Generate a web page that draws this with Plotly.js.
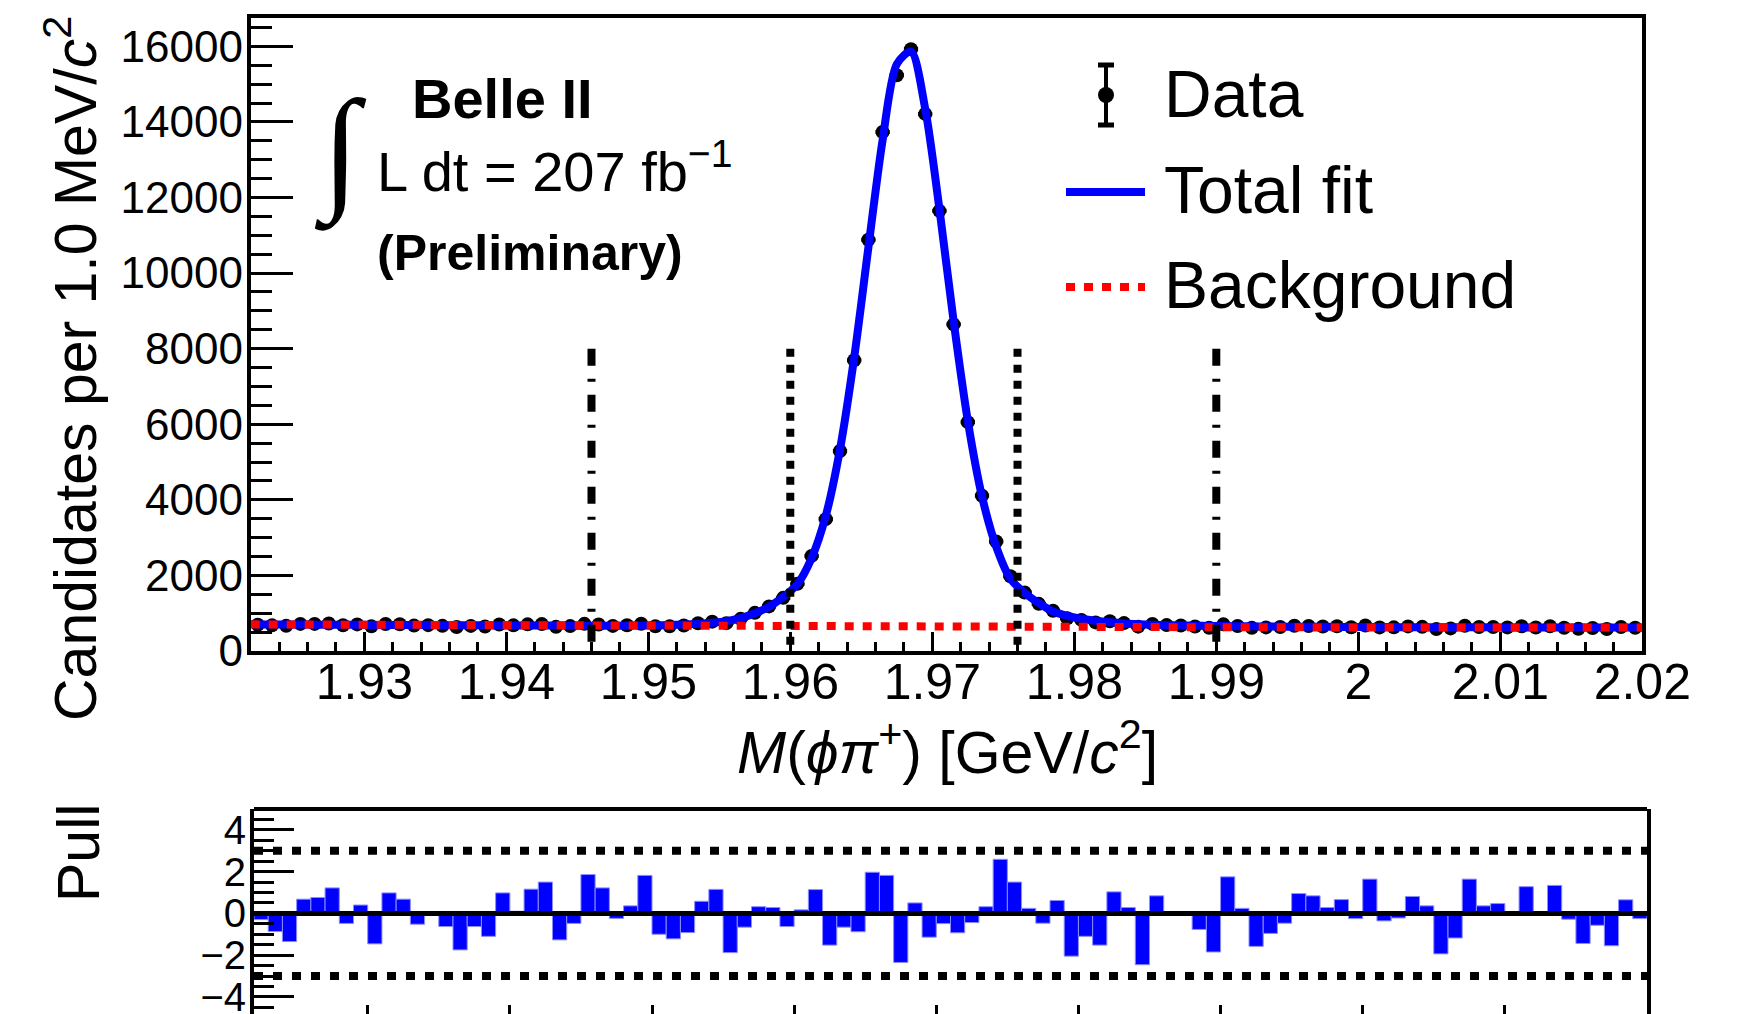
<!DOCTYPE html>
<html>
<head>
<meta charset="utf-8">
<script src="https://cdn.plot.ly/plotly-3.0.1.min.js"></script>
<style>
html,body{margin:0;padding:0;background:#fff;}
#chart{width:1747px;height:1014px;}
</style>
</head>
<body>
<div id="chart"></div>
<script>
// ---------------- data ----------------
const binLow = 1.922;          // GeV/c^2, lower edge of first bin
const binWidth = 0.001;        // 1.0 MeV/c^2 bins
const xRange = [1.922, 2.020];

// candidates per bin (data points)
const dataCounts = [
  696, 679, 665, 717, 717, 728, 681, 704, 653, 715,
  706, 672, 684, 666, 636, 664, 650, 703, 679, 705,
  712, 639, 659, 718, 702, 664, 680, 722, 654, 656,
  676, 734, 776, 737, 851, 1010, 1180, 1406, 1777, 2517,
  3489, 5292, 7692, 10884, 13732, 15237, 15923, 14213, 11647, 8643,
  6056, 4110, 2896, 1976, 1549, 1248, 1065, 867, 823, 757,
  788, 738, 644, 717, 685, 675, 649, 616, 705, 662,
  612, 625, 634, 668, 663, 647, 655, 630, 675, 624,
  626, 651, 639, 580, 598, 668, 635, 637, 625, 656,
  623, 656, 615, 586, 607, 582, 636, 614
];

// total fit read at the bin centres
const fitCounts = [
  704, 702, 701, 699, 697, 696, 694, 693, 691, 689,
  688, 686, 685, 683, 682, 680, 679, 677, 676, 675,
  673, 672, 671, 670, 670, 670, 671, 675, 680, 688,
  700, 718, 745, 790, 870, 1000, 1170, 1430, 1770, 2460,
  3580, 5340, 7770, 10680, 13520, 15530, 15860, 14350, 11700, 8730,
  6090, 4090, 2760, 1910, 1540, 1265, 1045, 930, 855, 800,
  760, 730, 710, 695, 684, 676, 669, 664, 660, 656,
  652, 649, 646, 644, 642, 640, 638, 636, 634, 633,
  632, 631, 630, 629, 628, 627, 626, 625, 624, 624,
  623, 623, 622, 622, 621, 621, 620, 620
];
// total fit at the two range edges
const fitEdgeCounts = [705, 620];

// background component
const bkgX = [1.922, 1.952, 1.972, 1.992, 2.020];
const bkgCounts = [705, 655, 635, 626, 620];

// pulls per bin
const pulls = [
  -0.30, -0.87, -1.35, 0.68, 0.76, 1.22, -0.48, 0.40, -1.46, 0.98,
  0.68, -0.52, -0.04, -0.63, -1.75, -0.63, -1.10, 0.98, 0.10, 1.16,
  1.50, -1.27, -0.48, 1.86, 1.22, -0.24, 0.36, 1.82, -1.00, -1.22,
  -0.92, 0.58, 1.15, -1.88, -0.66, 0.32, 0.28, -0.63, 0.17, 1.14,
  -1.52, -0.66, -0.88, 1.97, 1.82, -2.35, 0.50, -1.14, -0.49, -0.93,
  -0.44, 0.32, 2.59, 1.50, 0.24, -0.47, 0.62, -2.05, -1.10, -1.52,
  1.03, 0.28, -2.46, 0.84, 0.03, -0.02, -0.77, -1.85, 1.75, 0.24,
  -1.58, -0.96, -0.47, 0.95, 0.84, 0.28, 0.66, -0.25, 1.64, -0.36,
  -0.22, 0.81, 0.36, -1.94, -1.18, 1.64, 0.36, 0.47, 0.02, 1.28,
  -0.02, 1.34, -0.28, -1.44, -0.57, -1.55, 0.65, -0.25
];

// signal-region (dotted) and sideband (dash-dot) boundaries
const cutInner = [1.960, 1.976];
const cutOuter = [1.946, 1.990];
const cutTop = 8000;
const pullBand = [-3, 3];

// tick labels
const xTickVals = [1.93, 1.94, 1.95, 1.96, 1.97, 1.98, 1.99, 2.00, 2.01, 2.02];
const xTickText = ["1.93", "1.94", "1.95", "1.96", "1.97", "1.98", "1.99", "2", "2.01", "2.02"];
const yTickVals = [0, 2000, 4000, 6000, 8000, 10000, 12000, 14000, 16000];
const yTickText = ["0", "2000", "4000", "6000", "8000", "10000", "12000", "14000", "16000"];
const pullTickVals = [-4, -2, 0, 2, 4];
const pullTickText = ["\u22124", "\u22122", "0", "2", "4"];

// ---------------- build ----------------
const W = 1747, H = 1014;
const px = v => v / W;
const py = v => 1 - v / H;
const FONT = "Liberation Sans, Arial, Helvetica, sans-serif";

const binCenters = dataCounts.map((_, i) => binLow + binWidth * (i + 0.5));
const fitX = [xRange[0]].concat(binCenters, [xRange[1]]);
const fitY = [fitEdgeCounts[0]].concat(fitCounts, [fitEdgeCounts[1]]);

const traces = [
  {
    type: "scatter", mode: "markers", x: binCenters, y: dataCounts,
    xaxis: "x", yaxis: "y",
    marker: {color: "black", size: 14},
    error_y: {type: "sqrt", color: "black", thickness: 4, width: 0},
    error_x: {type: "constant", value: binWidth / 2, color: "black", thickness: 4, width: 0},
    showlegend: false, hoverinfo: "skip"
  },
  {
    type: "scatter", mode: "lines", x: fitX, y: fitY,
    xaxis: "x", yaxis: "y",
    line: {color: "#0000ff", width: 8, shape: "spline", smoothing: 0.8},
    showlegend: false, hoverinfo: "skip"
  },
  {
    type: "scatter", mode: "lines", x: bkgX, y: bkgCounts,
    xaxis: "x", yaxis: "y",
    line: {color: "#ff0000", width: 8, dash: "9px,9px"},
    showlegend: false, hoverinfo: "skip"
  },
  {
    type: "bar", x: binCenters, y: pulls, width: binWidth,
    xaxis: "x2", yaxis: "y2",
    marker: {color: "#0000ff", line: {color: "#8c8cff", width: 1}},
    showlegend: false, hoverinfo: "skip"
  }
];

const shapes = [];
cutOuter.forEach(c => shapes.push({
  type: "line", xref: "x", yref: "y", x0: c, x1: c, y0: cutTop, y1: 0,
  line: {color: "black", width: 8, dash: "17px,13px,3px,13px"}
}));
cutInner.forEach(c => shapes.push({
  type: "line", xref: "x", yref: "y", x0: c, x1: c, y0: cutTop, y1: 0,
  line: {color: "black", width: 8, dash: "8px,8px"}
}));
pullBand.forEach(b => shapes.push({
  type: "line", xref: "x2", yref: "y2", x0: xRange[0], x1: xRange[1], y0: b, y1: b,
  line: {color: "black", width: 8, dash: "9px,10px"}
}));
shapes.push({
  type: "line", xref: "x2", yref: "y2", x0: xRange[0], x1: xRange[1], y0: 0, y1: 0,
  line: {color: "black", width: 5}
});
// top border of the pull pad
shapes.push({
  type: "line", xref: "x2 domain", yref: "y2 domain", x0: 0, x1: 1, y0: 1, y1: 1,
  line: {color: "black", width: 4}
});

// legend symbols
const legX = 1106;
shapes.push({type: "line", xref: "paper", yref: "paper", x0: px(legX), x1: px(legX), y0: py(65), y1: py(125), line: {color: "black", width: 4}});
shapes.push({type: "line", xref: "paper", yref: "paper", x0: px(legX - 8), x1: px(legX + 8), y0: py(65), y1: py(65), line: {color: "black", width: 5}});
shapes.push({type: "line", xref: "paper", yref: "paper", x0: px(legX - 8), x1: px(legX + 8), y0: py(125), y1: py(125), line: {color: "black", width: 5}});
shapes.push({type: "circle", xref: "paper", yref: "paper", x0: px(legX - 8), x1: px(legX + 8), y0: py(103), y1: py(87), fillcolor: "black", line: {color: "black", width: 0}});
shapes.push({type: "line", xref: "paper", yref: "paper", x0: px(1066), x1: px(1145), y0: py(192), y1: py(192), line: {color: "#0000ff", width: 8}});
shapes.push({type: "line", xref: "paper", yref: "paper", x0: px(1066), x1: px(1145), y0: py(287), y1: py(287), line: {color: "#ff0000", width: 8, dash: "9px,9px"}});

function ann(text, x, y, size, opts) {
  return Object.assign({
    text: text, xref: "paper", yref: "paper", x: px(x), y: py(y),
    xanchor: "left", yanchor: "middle", showarrow: false,
    font: {family: FONT, size: size, color: "black"}
  }, opts || {});
}

const annotations = [
  ann("Data", 1162, 94, 66),
  ann("Total fit", 1162, 190, 66),
  ann("Background", 1162, 285, 66),
  ann("<b>Belle II</b>", 410, 98, 56),
  ann("\u222B", 340, 152, 136, {xanchor: "center", font: {family: "Liberation Serif, DejaVu Serif, serif", size: 136, color: "black"}}),
  ann("L dt = 207 fb<sup>\u22121</sup>", 375, 168, 56),
  ann("<b>(Preliminary)</b>", 375, 253, 50),
  ann("Candidates per 1.0 MeV/<i>c</i><sup>2</sup>", 72, 369, 59, {xanchor: "center", textangle: -90}),
  ann("Pull", 79, 853, 59, {xanchor: "center", textangle: -90}),
  ann("<i>M</i>(<i>\u03D5\u03C0</i><sup>+</sup>) [GeV/<i>c</i><sup>2</sup>]", 947, 748, 59, {xanchor: "center"})
];

const axisCommon = {
  showgrid: false, zeroline: false, showline: true, linecolor: "black", linewidth: 4,
  mirror: true, ticks: "inside", tickcolor: "black", tickwidth: 3,
  tickfont: {family: FONT, size: 44, color: "black"}, fixedrange: true,
  ticklabeloverflow: "allow"
};

const layout = {
  width: W, height: H,
  margin: {l: 0, r: 0, t: 0, b: 0, pad: 0},
  paper_bgcolor: "white", plot_bgcolor: "white",
  showlegend: false, bargap: 0,
  font: {family: FONT, color: "black"},
  xaxis: Object.assign({}, axisCommon, {
    domain: [px(250.7), px(1642.3)], range: xRange, anchor: "y",
    tickmode: "array", tickvals: xTickVals, ticktext: xTickText, ticklen: 19,
    tickfont: {family: FONT, size: 50, color: "black"}, ticklabelstandoff: -16,
    minor: {tickmode: "linear", tick0: 1.92, dtick: 0.002, ticks: "inside", ticklen: 9, tickwidth: 3, tickcolor: "black", showgrid: false}
  }),
  yaxis: Object.assign({}, axisCommon, {
    domain: [py(651), py(18)], range: [0, 16750], anchor: "x",
    tickmode: "array", tickvals: yTickVals, ticktext: yTickText, ticklen: 42,
    ticklabelstandoff: -5,
    minor: {tickmode: "linear", tick0: 0, dtick: 500, ticks: "inside", ticklen: 21, tickwidth: 3, tickcolor: "black", showgrid: false}
  }),
  xaxis2: Object.assign({}, axisCommon, {
    domain: [px(254), px(1647)], range: xRange, anchor: "y2", showline: false,
    tickmode: "array", tickvals: xTickVals, ticktext: xTickText, ticklen: 9, showticklabels: false
  }),
  yaxis2: Object.assign({}, axisCommon, {
    domain: [0, py(809)], range: [-4.82, 5], anchor: "x2",
    tickmode: "array", tickvals: pullTickVals, ticktext: pullTickText, ticklen: 40,
    ticklabelstandoff: -4,
    tickfont: {family: FONT, size: 40, color: "black"},
    minor: {tickmode: "linear", tick0: 0, dtick: 0.5, ticks: "inside", ticklen: 20, tickwidth: 3, tickcolor: "black", showgrid: false}
  }),
  shapes: shapes,
  annotations: annotations
};

Plotly.newPlot("chart", traces, layout, {staticPlot: true, displayModeBar: false});
</script>
</body>
</html>
